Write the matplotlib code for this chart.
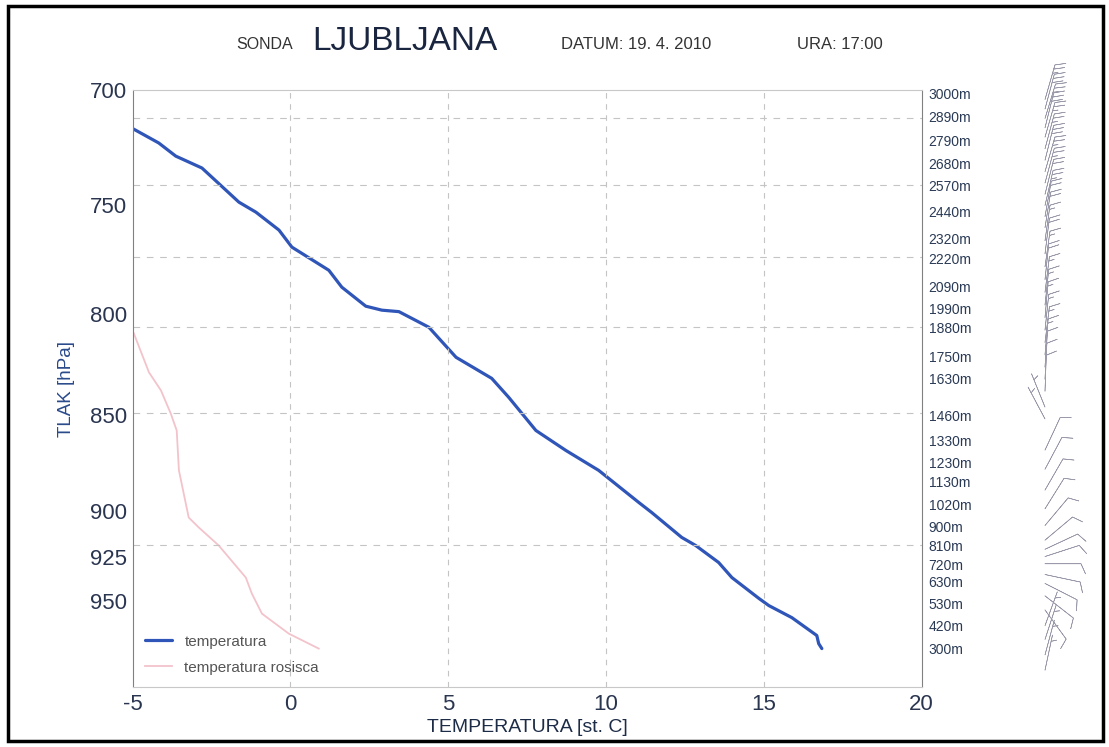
import numpy as np
import matplotlib
matplotlib.use("Agg")
import matplotlib.pyplot as plt
from matplotlib.ticker import NullLocator
from matplotlib.patches import Rectangle

plt.rcParams['font.family'] = ['Liberation Sans', 'DejaVu Sans']

# temperatura (modra crta)
temp_p = [716.5, 722.5, 728.2, 733.4, 748.5, 753.0, 761.1, 768.9, 779.6, 787.5,
          796.5, 798.4, 799.1, 806.6, 821.2, 831.6, 841.1, 857.9, 868.2, 878.6,
          895.6, 901.0, 914.5, 918.9, 928.3, 936.7, 948.5, 952.5, 959.4, 969.7,
          974.4, 977.3]
temp_t = [-4.97, -4.17, -3.63, -2.80, -1.63, -1.09, -0.36, 0.05, 1.22, 1.63,
          2.39, 2.90, 3.44, 4.39, 5.25, 6.38, 6.92, 7.78, 8.73, 9.77,
          11.04, 11.45, 12.40, 12.84, 13.57, 13.99, 14.85, 15.16, 15.89, 16.68,
          16.74, 16.84]

# temperatura rosisca (roza crta)
dew_p = [809.5, 828.6, 837.6, 849.2, 857.9, 878.6, 903.7, 909.1, 918.9, 936.7,
         945.7, 957.1, 968.6, 977.3]
dew_t = [-4.96, -4.48, -4.10, -3.79, -3.60, -3.53, -3.22, -2.90, -2.27, -1.41,
         -1.22, -0.90, -0.05, 0.90]

# visine na desni strani
height_labels = ["3000m", "2890m", "2790m", "2680m", "2570m", "2440m", "2320m",
                 "2220m", "2090m", "1990m", "1880m", "1750m", "1630m", "1460m",
                 "1330m", "1230m", "1130m", "1020m", "900m", "810m", "720m",
                 "630m", "530m", "420m", "300m"]
height_p = [702.1, 711.8, 722.1, 732.1, 741.8, 753.4, 765.7, 774.9, 788.0, 798.4,
            807.6, 821.7, 832.6, 851.2, 864.0, 875.0, 885.5, 897.7, 909.6, 920.0,
            930.0, 939.5, 951.9, 964.5, 977.9]

p_ticks = [700, 750, 800, 850, 900, 925, 950]
t_ticks = [-5, 0, 5, 10, 15, 20]
grid_p = [711.8, 740.9, 773.5, 806.6, 849.2, 918.9]
grid_t = [0, 5, 10, 15]

# veter: nivo, smer crtice na sliki (stopinje), hitrost (kt)
wind_p = [704, 708, 712, 716, 720, 725, 730, 735, 740, 745, 750,
          755, 760, 766, 772, 778, 784, 790, 796, 802, 808, 814, 820,
          826, 832, 838, 846, 852,
          868, 878, 889, 899, 908, 916, 921, 925, 929, 935, 940, 947, 955,
          964, 972, 981, 990]
wind_ang = [74, 75, 73, 76, 74, 75, 76, 74, 75, 76, 77,
            80, 81, 82, 83, 82, 84, 83, 84, 85, 84, 83, 85,
            86, 87, 88, 112, 118,
            65, 62, 60, 58, 50, 40, 25, 18, 0, -12, -27, -38, -54,
            70, 72, 75, 78]
wind_kt = [25, 30, 25, 30, 25, 25, 30, 25, 25, 20, 25,
           20, 20, 15, 20, 15, 20, 15, 15, 15, 15, 15, 15,
           10, 10, 10, 5, 5,
           10, 10, 10, 10, 10, 10, 10, 10, 10, 10, 10, 10, 10,
           5, 5, 5, 5]

fig = plt.figure(figsize=(11.09, 7.47), dpi=100)
ax = fig.add_axes([0.1195, 0.0803, 0.7115, 0.7992])

ax.plot(temp_t, temp_p, color="#2f55b8", lw=2.3, label="temperatura", solid_capstyle="round")
ax.plot(dew_t, dew_p, color="#f3c3cb", lw=1.3, label="temperatura rosisca")

ax.set_yscale("log")
ax.set_ylim(1000, 700)
ax.set_xlim(-5, 20)
ax.yaxis.set_minor_locator(NullLocator())
ax.set_yticks(p_ticks, [str(p) for p in p_ticks])
ax.set_xticks(t_ticks, [str(t) for t in t_ticks])
ax.tick_params(length=0, labelsize=16, labelcolor="#2a3550")
ax.tick_params(axis="y", pad=4)
ax.tick_params(axis="x", pad=5)

# mreza
for t in grid_t:
    ax.axvline(t, color="#c4c4c4", lw=0.8, ls=(0, (5, 5)))
for p in grid_p:
    ax.axhline(p, color="#c4c4c4", lw=0.8, ls=(0, (6, 6)))

ax.spines["left"].set_color("#808080")
ax.spines["right"].set_color("#808080")
ax.spines["top"].set_color("#c8c8c8")
ax.spines["bottom"].set_color("#c8c8c8")
for s in ax.spines.values():
    s.set_linewidth(0.8)

ax.set_xlabel("TEMPERATURA [st. C]", fontsize=14, color="#1c2b46", labelpad=3)
ax.set_ylabel("TLAK [hPa]", fontsize=13.5, color="#2a4a8a")
ax.yaxis.set_label_coords(-0.073, 0.5)

# visine ob desni osi
for lab, p in zip(height_labels, height_p):
    ax.text(1.009, p, lab, transform=ax.get_yaxis_transform(), fontsize=10,
            color="#2a3a55", va="center", ha="left")

leg = ax.legend(loc="lower left", frameon=False, fontsize=11, handlelength=1.8,
                labelspacing=0.8, borderaxespad=0.4)
for txt in leg.get_texts():
    txt.set_color("#555555")

# naslov
fig.text(0.239, 0.941, "SONDA", fontsize=11.5, color="#333333", ha="center", va="center")
fig.text(0.365, 0.944, "LJUBLJANA", fontsize=24, color="#1a2540", ha="center", va="center")
fig.text(0.5735, 0.941, "DATUM: 19. 4. 2010", fontsize=12, color="#333333", ha="center", va="center")
fig.text(0.757, 0.941, "URA: 17:00", fontsize=12, color="#333333", ha="center", va="center")

# veter
axw = fig.add_axes([1000 / 1109, 0.0803, 100 / 1109, 0.7992], sharey=ax)
axw.set_xlim(0, 1)
axw.axis("off")
ang = np.radians(wind_ang)
spd = np.array(wind_kt, dtype=float)
u = -spd * np.cos(ang)
v = -spd * np.sin(ang)
axw.barbs(np.full(len(wind_p), 0.45), wind_p, u, v,
          length=7.2, linewidth=0.45, color="#9a9aaa", clip_on=False,
          sizes=dict(height=0.28, spacing=0.12))

# okvir okoli slike
fig.patches.append(Rectangle((0.0072, 0.008), 0.987, 0.984, transform=fig.transFigure,
                             fill=False, edgecolor="black", lw=2.5))

fig.savefig("out.png", dpi=100)
